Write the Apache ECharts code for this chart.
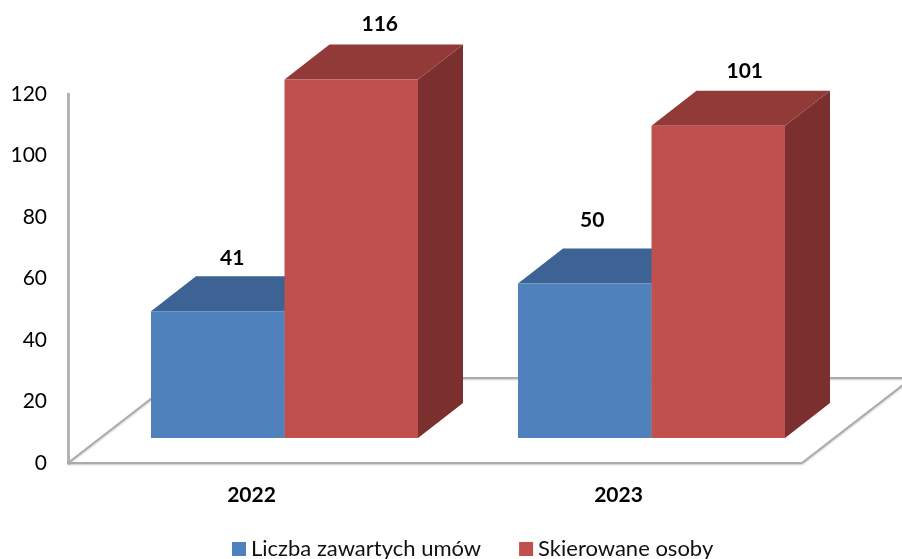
<!DOCTYPE html>
<html>
<head>
<meta charset="utf-8">
<style>html,body{margin:0;padding:0;background:#fff}#c{width:902px;height:559px}</style>
<script src="https://cdn.jsdelivr.net/npm/echarts@6/dist/echarts.min.js"></script>
</head>
<body>
<div id="c"></div>
<script>
const categories = ['2022', '2023'];
const seriesNames = ['Liczba zawartych umów', 'Skierowane osoby'];
const umowy = [41, 50];
const osoby = [116, 101];
const yTicks = [0, 20, 40, 60, 80, 100, 120];

const FONT = 'Lato, "Open Sans", sans-serif';
const BAR_W = 133.5, INSET_X = 33, INSET_Y = 25, DX = 45, DY = 35;
const FLOOR_DX = 110, FLOOR_DY = 85;
const labelShift = {
  0: [[-8, -18], [6, -20]],
  1: [[-15, -28], [4, -20]]
};
const palette = [
  {front: '#4F81BD', top: '#3C6393', side: '#2F4E75'},
  {front: '#C0504D', top: '#923A38', side: '#7B302F'}
];

function barItem(s) {
  return function (params, api) {
    const idx = api.value(0), val = api.value(1);
    const c = palette[s];
    const x0 = api.coord([idx, 0])[0] + INSET_X + (s === 0 ? -BAR_W : 0);
    const x1 = x0 + BAR_W;
    const base = api.coord([idx, 0])[1] - INSET_Y;
    const top = api.coord([idx, val])[1] - INSET_Y;
    const poly = (pts, fill) => ({type: 'polygon', shape: {points: pts}, style: {fill: fill}});
    const [lx, ly] = labelShift[idx][s];
    return {
      type: 'group',
      children: [
        poly([[x1, base], [x1 + DX, base - DY], [x1 + DX, top - DY], [x1, top]], c.side),
        poly([[x0, top], [x0 + DX, top - DY], [x1 + DX, top - DY], [x1, top]], c.top),
        {type: 'rect', shape: {x: x0, y: top, width: BAR_W, height: base - top}, style: {fill: c.front}},
        {type: 'text', style: {
          text: String(val), x: (x0 + x1) / 2 + DX / 2 + lx, y: top - DY + ly,
          align: 'center', verticalAlign: 'middle', fill: '#000',
          font: 'bold 21px ' + FONT
        }}
      ]
    };
  };
}

function floorItem(params, api) {
  const p0 = api.coord([0, 0]);
  const cs = params.coordSys;
  const xl = cs.x, xr = cs.x + cs.width, y = p0[1];
  const style = {stroke: '#ABABAB', lineWidth: 2, fill: 'none',
    shadowColor: 'rgba(0,0,0,0.22)', shadowBlur: 2, shadowOffsetY: 1};
  const line = (a, b) => ({type: 'line', shape: {x1: a[0], y1: a[1], x2: b[0], y2: b[1]}, style: style});
  return {
    type: 'group',
    children: [
      line([xl, y], [xl + FLOOR_DX, y - FLOOR_DY]),
      line([xl + FLOOR_DX, y - FLOOR_DY], [xr + FLOOR_DX, y - FLOOR_DY]),
      line([xr, y], [xr + FLOOR_DX, y - FLOOR_DY]),
      line([xl, y], [xr, y])
    ]
  };
}

const chart = echarts.init(document.getElementById('c'), null, {renderer: 'canvas'});
chart.setOption({
  backgroundColor: '#fff',
  animation: false,
  textStyle: {fontFamily: FONT},
  grid: {left: 68, right: 100, top: 94, bottom: 96, containLabel: false},
  legend: {
    data: seriesNames, bottom: -6, left: 227, icon: 'rect',
    itemWidth: 14, itemHeight: 14, itemGap: 38,
    textStyle: {fontSize: 22, color: '#111', fontFamily: FONT}
  },
  xAxis: {
    type: 'category', data: categories,
    axisLine: {show: false}, axisTick: {show: false}, splitLine: {show: false},
    axisLabel: {fontSize: 21, fontWeight: 'bold', color: '#000', margin: 22, fontFamily: FONT}
  },
  yAxis: [
    {
      type: 'value', min: yTicks[0], max: yTicks[yTicks.length - 1], interval: yTicks[1] - yTicks[0],
      axisLine: {show: true, lineStyle: {color: '#B4B4B4', width: 3}},
      axisTick: {show: false}, splitLine: {show: false},
      axisLabel: {fontSize: 21, color: '#000', margin: 21, fontFamily: FONT}
    },
    {type: 'value', min: 0, max: 119.4, show: false, splitLine: {show: false}}
  ],
  series: [
    {type: 'custom', name: 'floor', data: [[0, 0]], renderItem: floorItem, silent: true, clip: false, z: 1},
    {type: 'custom', name: seriesNames[0], yAxisIndex: 1, data: umowy.map((v, i) => [i, v]),
     renderItem: barItem(0), itemStyle: {color: palette[0].front}, clip: false, z: 2},
    {type: 'custom', name: seriesNames[1], yAxisIndex: 1, data: osoby.map((v, i) => [i, v]),
     renderItem: barItem(1), itemStyle: {color: palette[1].front}, clip: false, z: 3}
  ]
});
</script>
</body>
</html>
